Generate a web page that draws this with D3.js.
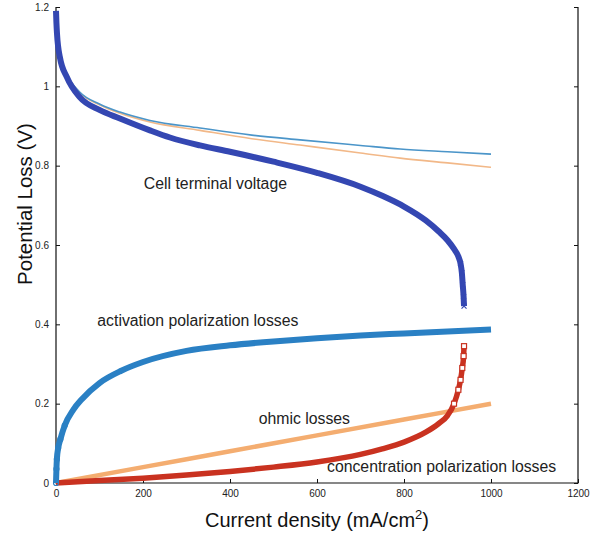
<!DOCTYPE html>
<html>
<head>
<meta charset="utf-8">
<script src="https://cdn.jsdelivr.net/npm/d3@7"></script>
<style>
  body { margin: 0; background: #fff; }
  svg { display: block; font-family: "Liberation Sans", Arial, sans-serif; }
</style>
</head>
<body>
<svg id="chart" width="594" height="535"></svg>
<script>
// values
const xTicks = [0, 200, 400, 600, 800, 1000, 1200];
const yTicks = [0, 0.2, 0.4, 0.6, 0.8, 1, 1.2];

const cellI = [0, 1, 2.3, 9, 25, 55, 101, 147, 216, 262, 331, 400, 500, 600, 700, 750, 800, 850, 880, 900, 915, 925, 930, 933, 935, 937, 938];
const cellV = [1.19, 1.16, 1.133, 1.073, 1.023, 0.972, 0.94, 0.919, 0.889, 0.871, 0.851, 0.835, 0.81, 0.782, 0.747, 0.724, 0.697, 0.662, 0.634, 0.612, 0.59, 0.571, 0.553, 0.53, 0.5, 0.47, 0.446];

const thinI = [0, 1, 2.3, 9, 25, 55, 101, 147, 216, 331, 450, 561, 700, 791, 900, 1000];
const noActV = [1.19, 1.16, 1.135, 1.08, 1.03, 0.985, 0.955, 0.935, 0.914, 0.895, 0.877, 0.865, 0.851, 0.842, 0.835, 0.829];
const noOhmV = [1.19, 1.16, 1.135, 1.08, 1.03, 0.984, 0.953, 0.932, 0.91, 0.889, 0.868, 0.852, 0.832, 0.819, 0.807, 0.796];

const actI = [0, 1, 2, 5, 10, 20, 40, 60, 100, 150, 200, 300, 400, 500, 600, 700, 800, 900, 1000];
const actV = [0, 0.035, 0.06, 0.088, 0.11, 0.145, 0.185, 0.212, 0.252, 0.283, 0.305, 0.333, 0.347, 0.357, 0.365, 0.372, 0.377, 0.382, 0.387];

const ohmI = [0, 200, 400, 600, 800, 1000];
const ohmV = [0, 0.04, 0.08, 0.12, 0.16, 0.2];

const concI = [0, 100, 200, 300, 400, 500, 600, 700, 750, 800, 850, 880, 900, 915, 925, 930, 934, 937, 938];
const concV = [0, 0.006, 0.012, 0.02, 0.029, 0.04, 0.053, 0.072, 0.086, 0.103, 0.128, 0.15, 0.17, 0.2, 0.235, 0.26, 0.29, 0.32, 0.345];

const labels = [
    { text: "Cell terminal voltage", i: 202, v: 0.74 },
    { text: "activation polarization losses", i: 95, v: 0.397 },
    { text: "ohmic losses", i: 466, v: 0.15 },
    { text: "concentration polarization losses", i: 623, v: 0.028 }
];

const svg = d3.select("#chart");
const margin = { top: 7, right: 16, bottom: 52, left: 56 };
const W = 594, H = 535;

const x = d3.scaleLinear().domain([0, 1200]).range([margin.left, W - margin.right]);
const y = d3.scaleLinear().domain([0, 1.2]).range([H - margin.bottom, margin.top]);

const zip = (a, b) => a.map((d, k) => [d, b[k]]);
const line = d3.line().x(d => x(d[0])).y(d => y(d[1])).curve(d3.curveMonotoneX);

// frame: left, bottom, right (no top edge)
const frame = svg.append("g").attr("stroke", "#111").attr("stroke-width", 1.2).attr("fill", "none");
frame.append("path").attr("d", `M${x(0)},${y(1.2)}V${y(0)}H${x(1200)}V${y(1.2)}`);

// ticks pointing inward
const bottomAxis = svg.append("g")
    .attr("transform", `translate(0,${y(0)})`)
    .call(d3.axisBottom(x).tickValues(xTicks).tickSize(-4).tickPadding(7).tickFormat(d3.format("d")));
const leftAxis = svg.append("g")
    .attr("transform", `translate(${x(0)},0)`)
    .call(d3.axisLeft(y).tickValues(yTicks).tickSize(-4).tickPadding(7).tickFormat(d => d3.format("~g")(d)));
const rightAxis = svg.append("g")
    .attr("transform", `translate(${x(1200)},0)`)
    .call(d3.axisRight(y).tickValues(yTicks).tickSize(-4).tickFormat(""));

[bottomAxis, leftAxis, rightAxis].forEach(g => {
    g.select(".domain").remove();
    g.selectAll(".tick line").attr("stroke", "#111");
    g.selectAll("text").attr("font-size", 10).attr("fill", "#222").attr("font-family", "'Liberation Sans Narrow', 'Liberation Sans', Arial, sans-serif");
});

const plot = svg.append("g");

// thick marker bands
plot.append("path").datum(zip(ohmI, ohmV))
    .attr("d", line).attr("fill", "none").attr("stroke", "#f4ad70").attr("stroke-width", 4.5);

plot.append("path").datum(zip(concI, concV))
    .attr("d", line).attr("fill", "none").attr("stroke", "#c93220").attr("stroke-width", 5.5);
plot.append("g").selectAll("rect").data(zip(concI, concV).slice(-6))
    .join("rect")
    .attr("x", d => x(d[0]) - 2.5).attr("y", d => y(d[1]) - 2.5)
    .attr("width", 5).attr("height", 5)
    .attr("fill", "#fff").attr("stroke", "#c93220").attr("stroke-width", 1.2);

plot.append("path").datum(zip(actI, actV))
    .attr("d", line).attr("fill", "none").attr("stroke", "#2a80c4").attr("stroke-width", 6);
plot.append("g").selectAll("circle").data(zip(actI, actV).slice(0, 6))
    .join("circle")
    .attr("cx", d => x(d[0])).attr("cy", d => y(d[1])).attr("r", 2.5)
    .attr("fill", "none").attr("stroke", "#2a80c4").attr("stroke-width", 1.2);

// thin lines
plot.append("path").datum(zip(thinI, noOhmV))
    .attr("d", line).attr("fill", "none").attr("stroke", "#f2b888").attr("stroke-width", 1.6);
plot.append("path").datum(zip(thinI, noActV))
    .attr("d", line).attr("fill", "none").attr("stroke", "#4b95c9").attr("stroke-width", 1.6);

plot.append("path").datum(zip(cellI, cellV))
    .attr("d", line).attr("fill", "none").attr("stroke", "#3447b2").attr("stroke-width", 6);
plot.append("path").datum(zip(cellI, cellV).slice(-5))
    .attr("d", line).attr("fill", "none").attr("stroke", "#3447b2").attr("stroke-width", 1);
plot.append("g").selectAll("path.x").data(zip(cellI, cellV).slice(-5))
    .join("path")
    .attr("d", d => `M${x(d[0]) - 2.5},${y(d[1]) - 2.5}l5,5M${x(d[0]) - 2.5},${y(d[1]) + 2.5}l5,-5`)
    .attr("stroke", "#3447b2").attr("stroke-width", 1.2);

// annotations
svg.append("g").selectAll("text").data(labels)
    .join("text")
    .attr("x", d => x(d.i)).attr("y", d => y(d.v))
    .attr("font-size", 15.8).attr("fill", "#222")
    .text(d => d.text);

// axis titles
svg.append("text")
    .attr("x", 317).attr("y", 527)
    .attr("text-anchor", "middle").attr("font-size", 20).attr("fill", "#111")
    .call(t => {
        t.append("tspan").text("Current density (mA/cm");
        t.append("tspan").attr("dy", -8).attr("font-size", 13).text("2");
        t.append("tspan").attr("dy", 8).text(")");
    });

svg.append("text")
    .attr("transform", `translate(32,${204}) rotate(-90)`)
    .attr("text-anchor", "middle").attr("font-size", 20.5).attr("fill", "#111")
    .text("Potential Loss (V)");
</script>
</body>
</html>
